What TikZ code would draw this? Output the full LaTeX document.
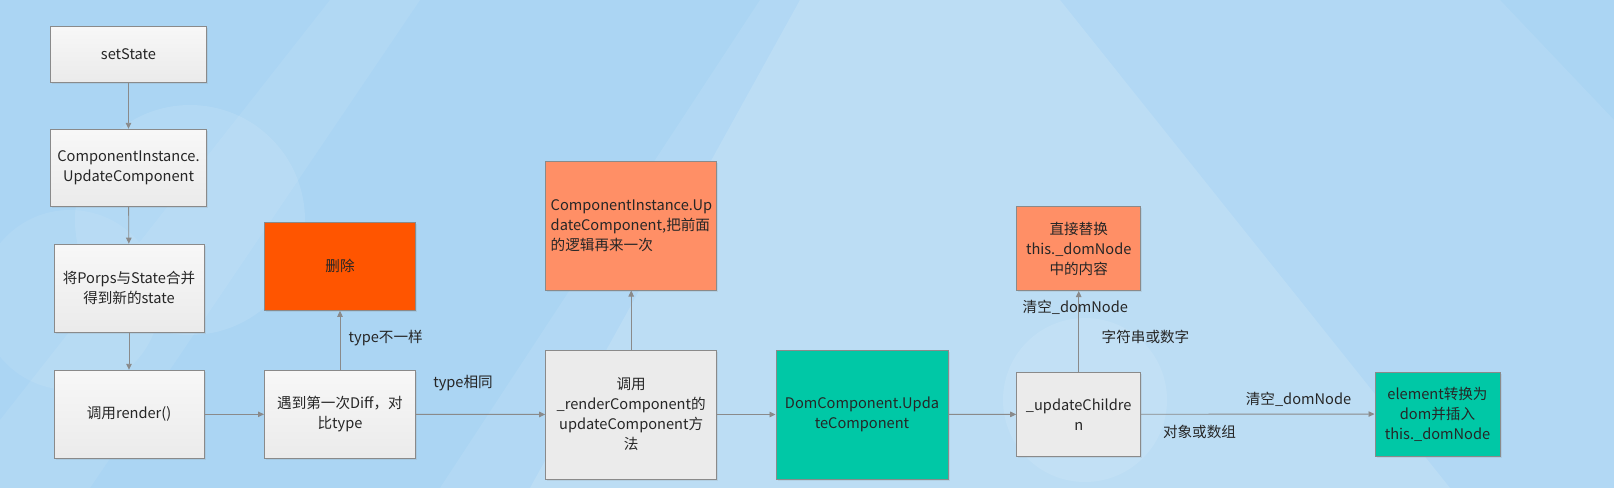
\documentclass[tikz,border=0pt]{standalone}
\usepackage{fontspec}
\setmainfont{Noto Sans CJK SC}
\usetikzlibrary{arrows.meta,shadows}
\definecolor{bgblue}{HTML}{ABD5F3}
\definecolor{edgegray}{HTML}{8A8A8A}
\definecolor{txt}{HTML}{262626}
\definecolor{delred}{HTML}{FF5500}
\definecolor{salmon}{HTML}{FF8F66}
\definecolor{teal}{HTML}{00C8A6}

\begin{document}
\begin{tikzpicture}[x=1pt,y=-1pt,
  box/.style={draw=edgegray,line width=1pt,text=txt,font=\fontsize{14.6}{20}\selectfont,
    align=center,inner sep=2pt,
    drop shadow={opacity=0.15,shadow xshift=1.5pt,shadow yshift=-1.5pt}},
  graybox/.style={box,top color=white!97!black,bottom color=white!92!black},
  flatbox/.style={box,fill=white!92!black},
  redbox/.style={box,fill=delred},
  orangebox/.style={box,fill=salmon},
  greenbox/.style={box,fill=teal},
  lbl/.style={text=txt,font=\fontsize{14.6}{20}\selectfont,inner sep=0pt},
  arr/.style={draw=edgegray,line width=0.9pt,-{Triangle[length=6pt,width=5.5pt]}}]
\useasboundingbox (0,0) rectangle (1614,488);
% background
\begin{scope}
\clip (0,0) rectangle (1614,488);
\fill[bgblue] (0,0) rectangle (1614,488);
\fill[white,opacity=0.14] (530,488) -- (800,0) -- (1060,0) -- (1450,488) -- cycle;
\fill[white,opacity=0.09] (440,488) -- (760,0) -- (1500,0) -- (1614,120) -- (1614,488) -- cycle;
\fill[white,opacity=0.08] (0,488) -- (0,420) -- (330,0) -- (420,0) -- (90,488) -- cycle;
\fill[white,opacity=0.10] (190,220) circle[radius=115];
\fill[white,opacity=0.08] (70,300) circle[radius=90];
\fill[white,opacity=0.10] (1085,400) circle[radius=82];
\end{scope}

% left column
\node[graybox,minimum width=156pt,minimum height=56pt] (set) at (128.5,54.3) {setState};
\node[graybox,minimum width=156pt,minimum height=77pt] (ci) at (128.5,167.8) {ComponentInstance.\\UpdateComponent};
\node[graybox,minimum width=150pt,minimum height=88pt] (merge) at (129,288.2) {将Porps与State合并\\得到新的state};
\node[graybox,minimum width=150pt,minimum height=88pt] (render) at (129,414.3) {调用render()};

% diff
\node[graybox,minimum width=151pt,minimum height=88pt] (diff) at (340,414.3) {遇到第一次Diff，对\\比type};
\node[redbox,minimum width=151pt,minimum height=88pt] (del) at (340,266.3) {删除};

% render component
\node[flatbox,minimum width=171pt,minimum height=129pt] (call) at (631.2,414.5) {调用\\\_renderComponent的\\updateComponent方\\法};
\node[orangebox,minimum width=171pt,minimum height=129pt,align=left,text width=161pt] (again) at (631.2,225.5) {ComponentInstance.Up\\dateComponent,把前面\\的逻辑再来一次};

% dom component
\node[greenbox,minimum width=172pt,minimum height=129pt] (dom) at (862,414.5) {DomComponent.Upda\\teComponent};
\node[flatbox,minimum width=124pt,minimum height=84pt] (children) at (1078.7,414.3) {\_updateChildre\\n};
\node[orangebox,minimum width=124pt,minimum height=84pt] (replace) at (1078.7,248.5) {直接替换\\this.\_domNode\\中的内容};
\node[greenbox,minimum width=125pt,minimum height=84pt] (element) at (1437.5,414) {element转换为\\dom并插入\\this.\_domNode};

\draw[arr] (set) -- (ci);
\draw[arr] (ci) -- (merge);
\draw[arr] (merge) -- (render);
\draw[arr] (render) -- (diff);
\draw[arr] (diff) -- (del);
\draw[arr] (diff) -- (call);
\draw[arr] (call) -- (again);
\draw[arr] (call) -- (dom);
\draw[arr] (dom) -- (children);
\draw[arr] (children) -- (replace);
\draw[arr] (children) -- (element);

\node[lbl] (diffup) at (385.7,337.7) {type不一样};
\node[lbl] (diffright) at (463,383) {type相同};
\node[lbl] (clearup) at (1075.3,307.7) {清空\_domNode};
\node[lbl] (strnum) at (1145.5,337.3) {字符串或数字};
\node[lbl] (clearright) at (1298.5,399.3) {清空\_domNode};
\node[lbl] (objarr) at (1199.5,431.7) {对象或数组};
\end{tikzpicture}
\end{document}
